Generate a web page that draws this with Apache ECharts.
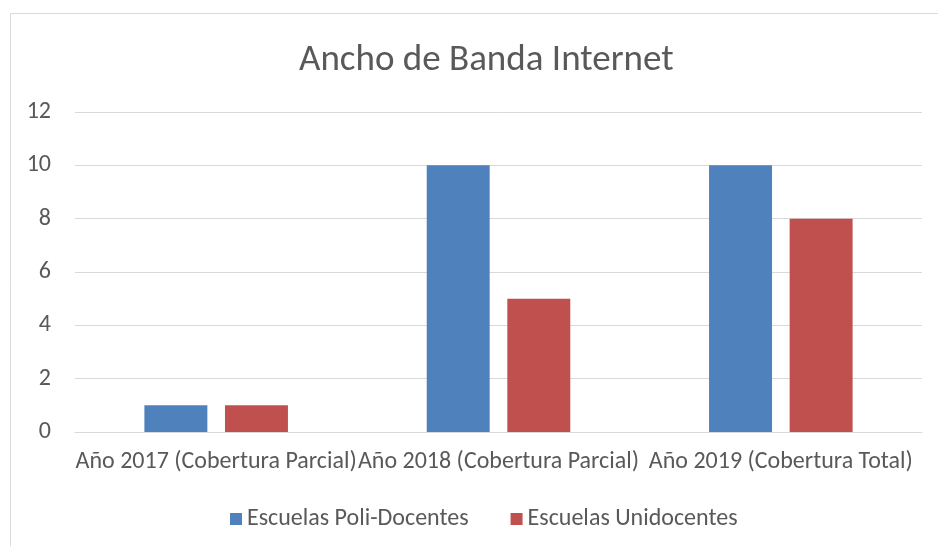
<!DOCTYPE html>
<html><head><meta charset="utf-8">
<script src="https://cdn.jsdelivr.net/npm/echarts@6/dist/echarts.min.js"></script>
<style>html,body{margin:0;padding:0;background:#fff}#c{width:938px;height:546px}</style>
</head><body><div id="c"></div>
<script>
const categories = ['Año 2017 (Cobertura Parcial)', 'Año 2018 (Cobertura Parcial)', 'Año 2019 (Cobertura Total)'];
const poliDocentes = [1, 10, 10];
const unidocentes = [1, 5, 8];
const seriesNames = ['Escuelas Poli-Docentes', 'Escuelas Unidocentes'];
const FONT = 'Carlito, "Liberation Sans Narrow", "Open Sans", sans-serif';
const chart = echarts.init(document.getElementById('c'));
chart.setOption({
  animation: false,
  graphic: [{type:'rect', shape:{x:10.5,y:13.5,width:1000,height:600}, style:{fill:'none', stroke:'#d9d9d9', lineWidth:1}, silent:true}],
  title: {text:'Ancho de Banda Internet', left:294, top:37, textStyle:{fontFamily:FONT, fontSize:37, fontWeight:'normal', color:'#595959'}},
  legend: {top:502, left:225, itemWidth:12, itemHeight:12, itemGap:42, icon:'rect',
    textStyle:{fontFamily:FONT, fontSize:24, color:'#595959'}, data: seriesNames},
  grid: {left:75, right:16, top:112, bottom:114},
  xAxis: {type:'category', data:categories, axisTick:{show:false},
    axisLine:{lineStyle:{color:'#d9d9d9', width:1}},
    axisLabel:{fontFamily:FONT, fontSize:24, color:'#595959', margin:18, interval:0}},
  yAxis: {type:'value', min:0, max:12, interval:2,
    axisLabel:{fontFamily:FONT, fontSize:24, color:'#595959', margin:24},
    splitLine:{lineStyle:{color:'#d9d9d9', width:1}}, axisLine:{show:false}},
  series: [
    {name:seriesNames[0], type:'bar', data:poliDocentes, barWidth:'22.3%', barGap:'28%', itemStyle:{color:'#4F81BD'}},
    {name:seriesNames[1], type:'bar', data:unidocentes, barWidth:'22.3%', barGap:'28%', itemStyle:{color:'#C0504D'}}
  ]
});
</script></body></html>
